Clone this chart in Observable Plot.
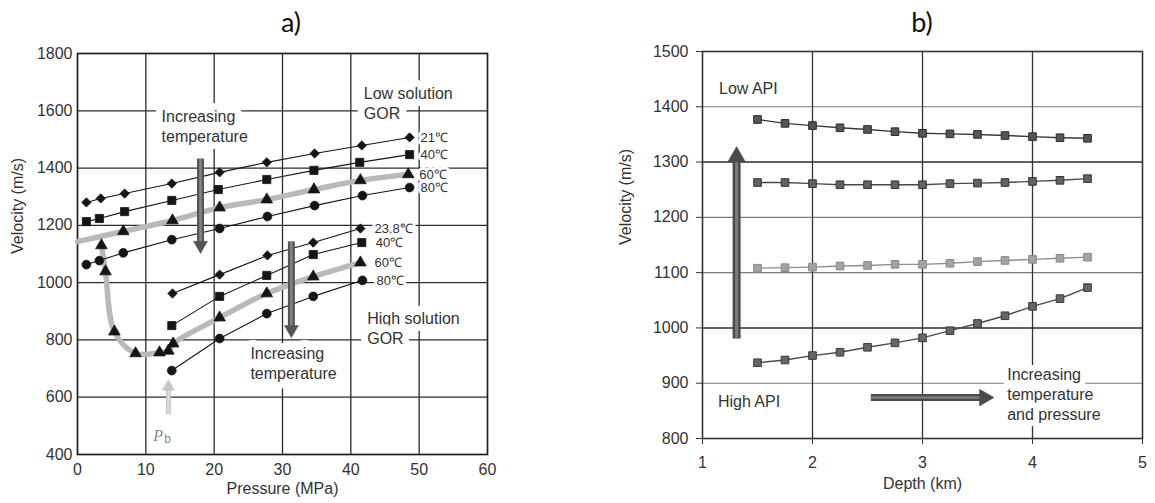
<!DOCTYPE html>
<html>
<head>
<meta charset="utf-8">
<script src="https://cdn.jsdelivr.net/npm/d3@7"></script>
<script src="https://cdn.jsdelivr.net/npm/@observablehq/plot@0.6"></script>
<style>
  body { margin: 0; background: #fff; }
  #wrap { position: relative; width: 1155px; height: 503px; overflow: hidden; background: #fff; }
  .title { position: absolute; top: 8px; line-height: 1; font-family: Lato, "Noto Sans", sans-serif; font-size: 27px; color: #111; transform: translateX(-50%); }
  #ta { left: 291px; }
  #tb { left: 922px; }
  #pa { position: absolute; left: 0; top: 40px; }
  #pb { position: absolute; left: 600px; top: 40px; }
</style>
</head>
<body>
<div id="wrap">
  <div class="title" id="ta">a)</div>
  <div class="title" id="tb">b)</div>
  <div id="pa"></div>
  <div id="pb"></div>
</div>
<script>
// ===================== DATA: panel a) =====================
const pressureTicks = [0, 10, 20, 30, 40, 50, 60];
const velocityTicksA = [400, 600, 800, 1000, 1200, 1400, 1600, 1800];

// Low solution GOR
const low21P = [1.3, 3.4, 6.9, 13.8, 20.8, 27.7, 34.7, 41.6, 48.6];
const low21V = [1280, 1294, 1311, 1346, 1385, 1420, 1451, 1479, 1507];
const low40P = [1.3, 3.2, 6.9, 13.8, 20.6, 27.7, 34.6, 41.3, 48.6];
const low40V = [1213, 1224, 1248, 1287, 1325, 1360, 1392, 1420, 1447];
const low60P = [0.0, 6.7, 13.9, 20.8, 27.7, 34.6, 41.4, 48.4];
const low60V = [1143, 1179, 1217, 1262, 1290, 1325, 1357, 1378];
const low80P = [1.3, 3.2, 6.7, 13.8, 20.8, 27.8, 34.7, 41.7, 48.6];
const low80V = [1063, 1077, 1104, 1150, 1189, 1231, 1269, 1304, 1332];
const lowLabels = ["21℃", "40℃", "60℃", "80℃"];

// High solution GOR
const high238P = [13.9, 20.8, 27.8, 34.5, 41.4];
const high238V = [962, 1028, 1095, 1140, 1189];
const high40P = [13.8, 20.8, 27.7, 34.5, 41.6];
const high40V = [850, 952, 1025, 1098, 1140];
const high60P = [3.5, 4.1, 5.4, 8.5, 12.0, 13.3, 14.0, 20.8, 27.7, 34.5, 41.4];
const high60V = [1130, 1039, 829, 753, 756, 762, 787, 878, 962, 1021, 1070];
const high80P = [13.8, 20.8, 27.7, 34.5, 41.7];
const high80V = [693, 805, 892, 952, 1008];
const highLabels = ["23.8℃", "40℃", "60℃", "80℃"];

// annotations a)
const notesA = [
  {text: "Increasing\ntemperature", P: 12.3, V: 1549},
  {text: "Increasing\ntemperature", P: 25.3, V: 721},
  {text: "Low solution\nGOR", P: 41.9, V: 1629},
  {text: "High solution\nGOR", P: 42.4, V: 843}
];
const arrowsA = [
  {x1: 18.0, y1: 1433, x2: 18.0, y2: 1128, tx: 18.0, ty: 1102},
  {x1: 31.3, y1: 1144, x2: 31.3, y2: 836, tx: 31.3, ty: 808}
];
const arrowPb = [{x1: 13.3, y1: 540, x2: 13.3, y2: 630, tx: 13.3, ty: 662}];
const pbLabel = [{P: 11.1, V: 466}];

// ===================== DATA: panel b) =====================
const depthTicks = [1, 2, 3, 4, 5];
const velocityTicksB = [800, 900, 1000, 1100, 1200, 1300, 1400, 1500];
const depthKm = [1.5, 1.75, 2.0, 2.25, 2.5, 2.75, 3.0, 3.25, 3.5, 3.75, 4.0, 4.25, 4.5];
const b1V = [1377, 1370, 1366, 1362, 1359, 1355, 1352, 1351, 1350, 1348, 1346, 1344, 1343];
const b2V = [1263, 1263, 1261, 1259, 1259, 1259, 1259, 1261, 1262, 1263, 1265, 1267, 1270];
const b3V = [1108, 1109, 1110, 1112, 1113, 1115, 1115, 1117, 1120, 1122, 1124, 1126, 1128];
const b4V = [937, 942, 950, 956, 965, 973, 982, 995, 1008, 1022, 1039, 1053, 1073];

const notesB = [
  {text: "Low API", D: 1.15, V: 1435},
  {text: "High API", D: 1.14, V: 869},
  {text: "Increasing\ntemperature\nand pressure", D: 3.77, V: 881}
];
const arrowBv = [{x1: 1.31, y1: 981, x2: 1.31, y2: 1300, tx: 1.31, ty: 1328}];
const arrowBh = [{x1: 2.53, y1: 874, x2: 3.56, y2: 874, tx: 3.65, ty: 874}];

// ===================== helpers =====================
const rows = (xs, ys) => xs.map((x, i) => ({x, y: ys[i]}));
const FONT = "'Liberation Sans', Arial, Helvetica, sans-serif";
const plain = d3.format("d");

function arrow(data, {outer, inner, w, wi, r, rotate, dx = 0, dy = 0}) {
  return [
    Plot.link(data, {x1: "x1", y1: "y1", x2: "x2", y2: "y2", stroke: outer, strokeWidth: w}),
    Plot.link(data, {x1: "x1", y1: "y1", x2: "x2", y2: "y2", stroke: inner, strokeWidth: wi}),
    Plot.dot(data, {x: "tx", y: "ty", symbol: "triangle", r, fill: outer, stroke: outer, strokeWidth: 0.5, rotate, dx, dy})
  ];
}

// ===================== panel a) =====================
const lowSeries = [
  {rows: rows(low21P, low21V), symbol: "diamond2"},
  {rows: rows(low40P, low40V), symbol: "square"},
  {rows: rows(low60P, low60V).filter(d => d.x > 0), symbol: "triangle"},
  {rows: rows(low80P, low80V), symbol: "circle"}
];
const highSeries = [
  {rows: rows(high238P, high238V), symbol: "diamond2"},
  {rows: rows(high40P, high40V), symbol: "square"},
  {rows: rows(high60P, high60V), symbol: "triangle"},
  {rows: rows(high80P, high80V), symbol: "circle"}
];
const symSize = {diamond2: 4.2, square: 4.6, triangle: 4.3, circle: 4.4};

const lowLabelRows = lowSeries.map((s, i) => ({...s.rows[s.rows.length - 1], label: lowLabels[i]}));
const highLabelRows = highSeries.map((s, i) => ({...s.rows[s.rows.length - 1], label: highLabels[i]}));

const marksA = [
  Plot.ruleX(pressureTicks.slice(1, -1), {stroke: "#2b2b2b", strokeWidth: 1.3}),
  Plot.ruleY(velocityTicksA.slice(1, -1), {stroke: "#2b2b2b", strokeWidth: 1.3}),
  Plot.frame({stroke: "#1e1e1e", strokeWidth: 1.7}),
  Plot.text(notesA, {x: "P", y: "V", text: "text", textAnchor: "start", lineAnchor: "middle", lineHeight: 1.25,
    fill: "#333", stroke: "white", strokeWidth: 14, paintOrder: "stroke", fontSize: 16}),
  Plot.text(lowLabelRows, {x: "x", y: "y", text: "label", textAnchor: "start", dx: 11, fill: "#333",
    stroke: "white", strokeWidth: 6, paintOrder: "stroke", fontSize: 13}),
  Plot.text(highLabelRows, {x: "x", y: "y", text: "label", textAnchor: "start", dx: 14, fill: "#333",
    stroke: "white", strokeWidth: 6, paintOrder: "stroke", fontSize: 13}),
  // grey bands for the 60 °C curves
  Plot.line(rows(low60P, low60V), {x: "x", y: "y", stroke: "#b9b9b9", strokeWidth: 5.5, curve: "catmull-rom"}),
  Plot.line(rows(high60P, high60V), {x: "x", y: "y", stroke: "#b9b9b9", strokeWidth: 5.5, curve: "catmull-rom"}),
  // thin black lines
  ...[lowSeries[0], lowSeries[1], lowSeries[3], highSeries[0], highSeries[1], highSeries[3]].map(s =>
    Plot.line(s.rows, {x: "x", y: "y", stroke: "#151515", strokeWidth: 1.1})),
  // markers
  ...[...lowSeries, ...highSeries].map(s =>
    Plot.dot(s.rows, {x: "x", y: "y", symbol: s.symbol, r: symSize[s.symbol], fill: "#151515", stroke: "#151515", strokeWidth: 0.8})),
  // arrows
  ...arrow(arrowsA, {outer: "#555", inner: "#858585", w: 7, wi: 2.5, r: 5.2, rotate: 180, dy: -1.555 * 5.2}),
  ...arrow(arrowPb, {outer: "#c8c8c8", inner: "#dedede", w: 5, wi: 2, r: 4.6, rotate: 0, dy: 1.555 * 4.6}),
  Plot.text(pbLabel, {x: "P", y: "V", text: () => "P", textAnchor: "start", fill: "#888", fontSize: 16,
    fontStyle: "italic", fontFamily: "'Liberation Serif', 'DejaVu Serif', serif"}),
  Plot.text(pbLabel, {x: "P", y: "V", text: () => "b", textAnchor: "start", dx: 11, dy: 4, fill: "#888", fontSize: 12}),
  // axis titles
  Plot.text(["Pressure (MPa)"], {frameAnchor: "bottom", dy: 39, fill: "#333", fontSize: 16}),
  Plot.text(["Velocity (m/s)"], {frameAnchor: "left", rotate: -90, dx: -60, fill: "#333", fontSize: 16})
];

const plotA = Plot.plot({
  width: 600, height: 463,
  marginTop: 13, marginLeft: 77, marginRight: 113, marginBottom: 49,
  x: {domain: [0, 60], ticks: pressureTicks, tickFormat: plain, tickSize: 0, tickPadding: 9, label: null},
  y: {domain: [400, 1800], ticks: velocityTicksA, tickFormat: plain, tickSize: 0, tickPadding: 5, label: null},
  style: {fontFamily: FONT, fontSize: "16px", color: "#333", background: "white", overflow: "visible"},
  marks: marksA
});
document.getElementById("pa").appendChild(plotA);

// ===================== panel b) =====================
const seriesB = [
  {v: b1V, line: "#3a3a3a", fill: "#555", stroke: "#2a2a2a"},
  {v: b2V, line: "#4a4a4a", fill: "#626262", stroke: "#333"},
  {v: b3V, line: "#8e8e8e", fill: "#a3a3a3", stroke: "#888"},
  {v: b4V, line: "#4a4a4a", fill: "#666", stroke: "#383838"}
];
const strongB = [1000, 1300];

const marksB = [
  Plot.ruleY(velocityTicksB.slice(1, -1).filter(v => !strongB.includes(v)), {stroke: "#7a7a7a", strokeWidth: 1.1}),
  Plot.ruleY(strongB, {stroke: "#2b2b2b", strokeWidth: 1.5}),
  Plot.ruleX(depthTicks.slice(1, -1), {stroke: "#333", strokeWidth: 1.3}),
  Plot.frame({stroke: "#333", strokeWidth: 1.6}),
  Plot.text(notesB, {x: "D", y: "V", text: "text", textAnchor: "start", lineAnchor: "middle", lineHeight: 1.25,
    fill: "#333", stroke: "white", strokeWidth: 12, paintOrder: "stroke", fontSize: 16}),
  ...seriesB.map(s => Plot.line(rows(depthKm, s.v), {x: "x", y: "y", stroke: s.line, strokeWidth: 1.4})),
  ...seriesB.map(s => Plot.dot(rows(depthKm, s.v), {x: "x", y: "y", symbol: "square", r: 4.3, fill: s.fill, stroke: s.stroke, strokeWidth: 1})),
  ...arrow(arrowBv, {outer: "#4a4a4a", inner: "#7c7c7c", w: 8, wi: 3, r: 6.6, rotate: 0, dy: 1.555 * 6.6}),
  ...arrow(arrowBh, {outer: "#4a4a4a", inner: "#7c7c7c", w: 7, wi: 2.5, r: 6.2, rotate: 90, dx: -1.555 * 6.2}),
  Plot.text(["Depth (km)"], {frameAnchor: "bottom", dy: 50, fill: "#333", fontSize: 16}),
  Plot.text(["Velocity (m/s)"], {frameAnchor: "left", rotate: -90, dx: -77, fill: "#333", fontSize: 16})
];

const plotB = Plot.plot({
  width: 555, height: 463,
  marginTop: 11, marginLeft: 102, marginRight: 13, marginBottom: 65,
  x: {domain: [1, 5], ticks: depthTicks, tickFormat: plain, tickSize: 6, tickPadding: 12, label: null},
  y: {domain: [800, 1500], ticks: velocityTicksB, tickFormat: plain, tickSize: 6, tickPadding: 8, label: null},
  style: {fontFamily: FONT, fontSize: "16px", color: "#333", background: "white", overflow: "visible"},
  marks: marksB
});
document.getElementById("pb").appendChild(plotB);
</script>
</body>
</html>
